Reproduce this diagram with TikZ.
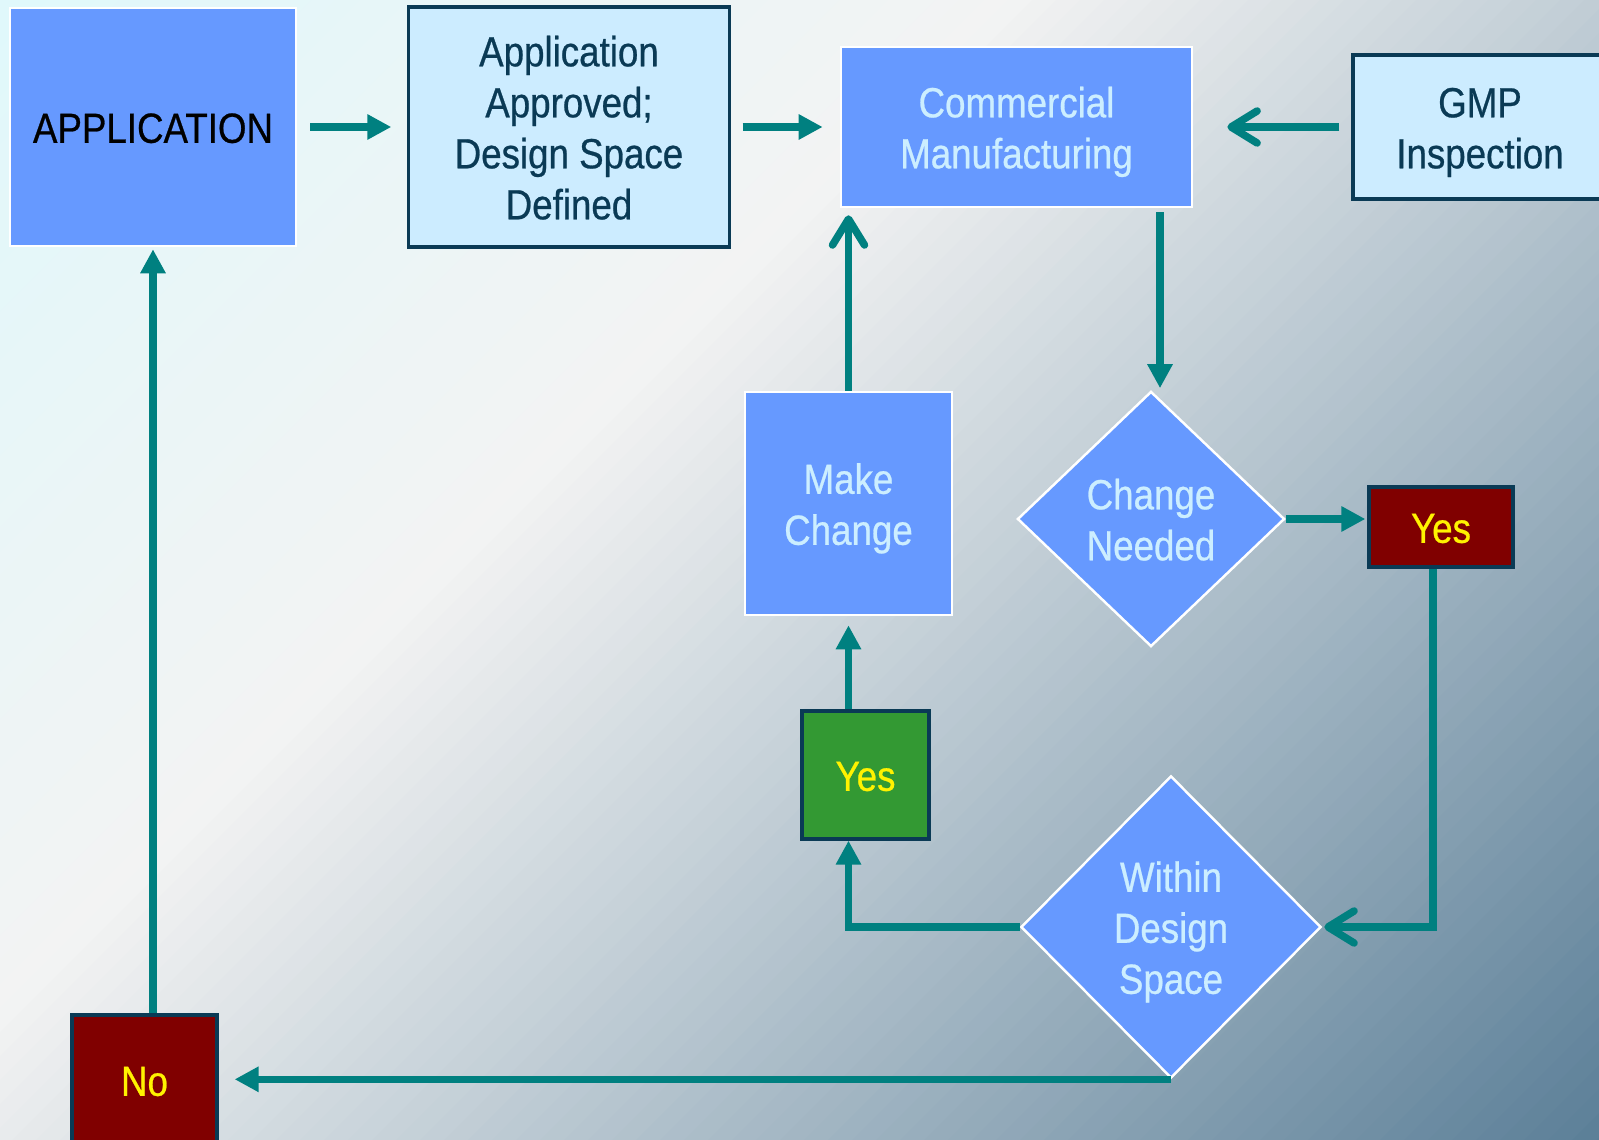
\documentclass[tikz,border=0pt]{standalone}
\usepackage{fontspec}
\setmainfont[FakeStretch=0.87,FakeBold=0.6]{Liberation Sans}
\usetikzlibrary{shapes.geometric,arrows.meta}

% background ramp (diagonal, top-left to bottom-right)
\definecolor{bgA}{HTML}{E0F8FB}
\definecolor{bgB}{HTML}{F3F3F3}
\definecolor{bgC}{HTML}{C8D3DA}
\definecolor{bgD}{HTML}{5A7E97}
% shapes and text
\definecolor{boxblue}{HTML}{6699FF}
\definecolor{paleblue}{HTML}{CCECFF}
\definecolor{paletext}{HTML}{CCEEFF}
\definecolor{navy}{HTML}{0A3A55}
\definecolor{darkred}{HTML}{800000}
\definecolor{leaf}{HTML}{339933}
\definecolor{flowteal}{HTML}{008080}

\newcommand{\labelfont}{\fontsize{12}{14.5}\selectfont}
% centred lines; extra room on top sets them slightly low in their box
\newcommand{\stack}[1]{\raisebox{0pt}[\dimexpr\height+3.2pt\relax][\depth]{\begin{tabular}{@{}c@{}}#1\end{tabular}}}

\begin{document}
\begin{tikzpicture}[x=0.01cm, y=-0.01cm,
  blockbox/.style={draw=white, line width=0.7pt, fill=boxblue, text=paletext,
    inner sep=0pt, font=\labelfont},
  palebox/.style={draw=navy, line width=0.9pt, fill=paleblue, text=navy,
    inner sep=0pt, font=\labelfont},
  decision/.style={diamond, draw=white, line width=0.7pt, fill=boxblue, text=paletext,
    inner sep=0pt, font=\labelfont},
  answer/.style={draw=navy, line width=0.9pt, text=yellow,
    inner sep=0pt, font=\labelfont},
  flow/.style={draw=flowteal, line width=0.075cm, -{Triangle[length=0.24cm,width=0.24cm]}},
  openflow/.style={draw=flowteal, line width=0.075cm, -{Straight Barb[length=0.26cm,width=0.32cm,round]}}
]
\useasboundingbox (0,0) rectangle (1599,1140);

% background: painted in diagonal bands, each covering everything beyond it
\begin{scope}
  \clip (0,0) rectangle (1599,1140);
  \foreach \i in {0,...,115} {
    \pgfmathsetmacro{\v}{\i*24}
    \pgfmathsetmacro{\pa}{100*min(\v/1000,1)}
    \pgfmathsetmacro{\pb}{100*max(min((\v-1000)/500,1),0)}
    \pgfmathsetmacro{\pc}{100*max(min((\v-1500)/1239,1),0)}
    \colorlet{sA}{bgB!\pa!bgA}
    \colorlet{sB}{bgC!\pb!sA}
    \colorlet{sC}{bgD!\pc!sB}
    \fill[sC] (\v+2000,-2000) -- (\v-2000,2000) -- (\v+1000,5000) -- (\v+5000,1000) -- cycle;
  }
\end{scope}

% nodes
\node[blockbox, text=black, minimum width=2.86cm, minimum height=2.38cm] (app) at (153,127) {\stack{APPLICATION}};
\node[palebox, minimum width=3.20cm, minimum height=2.40cm] (appr) at (569,127) {\stack{Application\\Approved;\\Design Space\\Defined}};
\node[blockbox, minimum width=3.51cm, minimum height=1.60cm] (comm) at (1016.5,127) {\stack{Commercial\\Manufacturing}};
\node[palebox, minimum width=2.54cm, minimum height=1.44cm] (gmp) at (1480,127) {\stack{GMP\\Inspection}};
\node[blockbox, minimum width=2.07cm, minimum height=2.23cm] (mk) at (848.5,503.5) {\stack{Make\\Change}};
\node[decision, minimum width=2.67cm, minimum height=2.55cm] (cn) at (1151,519) {\stack{Change\\Needed}};
\node[answer, fill=darkred, minimum width=1.44cm, minimum height=0.80cm] (yr) at (1441,527) {\stack{Yes}};
\node[answer, fill=leaf, minimum width=1.27cm, minimum height=1.28cm] (yg) at (865.5,775) {\stack{Yes}};
\node[decision, minimum width=3.00cm, minimum height=3.02cm] (wds) at (1171,927) {\stack{Within\\Design\\Space}};
\node[answer, fill=darkred, minimum width=1.45cm, minimum height=1.30cm] (no) at (144.5,1080) {\stack{No}};

% connectors
\draw[flow, shorten <=0.13cm, shorten >=0.16cm] (app.east) -- (appr.west);
\draw[flow, shorten <=0.12cm, shorten >=0.17cm] (appr.east) -- (comm.west);
\draw[openflow, shorten <=0.12cm, shorten >=0.34cm] (gmp.west) -- (comm.east);
\draw[flow, shorten <=0.04cm, shorten >=0.02cm] ([xshift=0.09cm]comm.south -| cn.north) -- ([xshift=0.09cm]cn.north);
\draw[openflow, shorten >=0.07cm] (mk.north) -- (mk.north |- comm.south);
\draw[flow, shorten >=0.02cm] (cn.east) -- (cn.east -| yr.west);
\draw[openflow, shorten >=0.02cm] ([xshift=-0.08cm]yr.south) |- (wds.east);
\draw[flow] (wds.west) -| (yg.south -| mk.south);
\draw[flow, shorten >=0.09cm] (yg.north -| mk.south) -- (mk.south);
\draw[flow, shorten >=0.16cm] (wds.south) -- (wds.south -| no.east);
\draw[flow, shorten >=0.02cm] (no.north -| app.south) -- (app.south);
\end{tikzpicture}
\end{document}
